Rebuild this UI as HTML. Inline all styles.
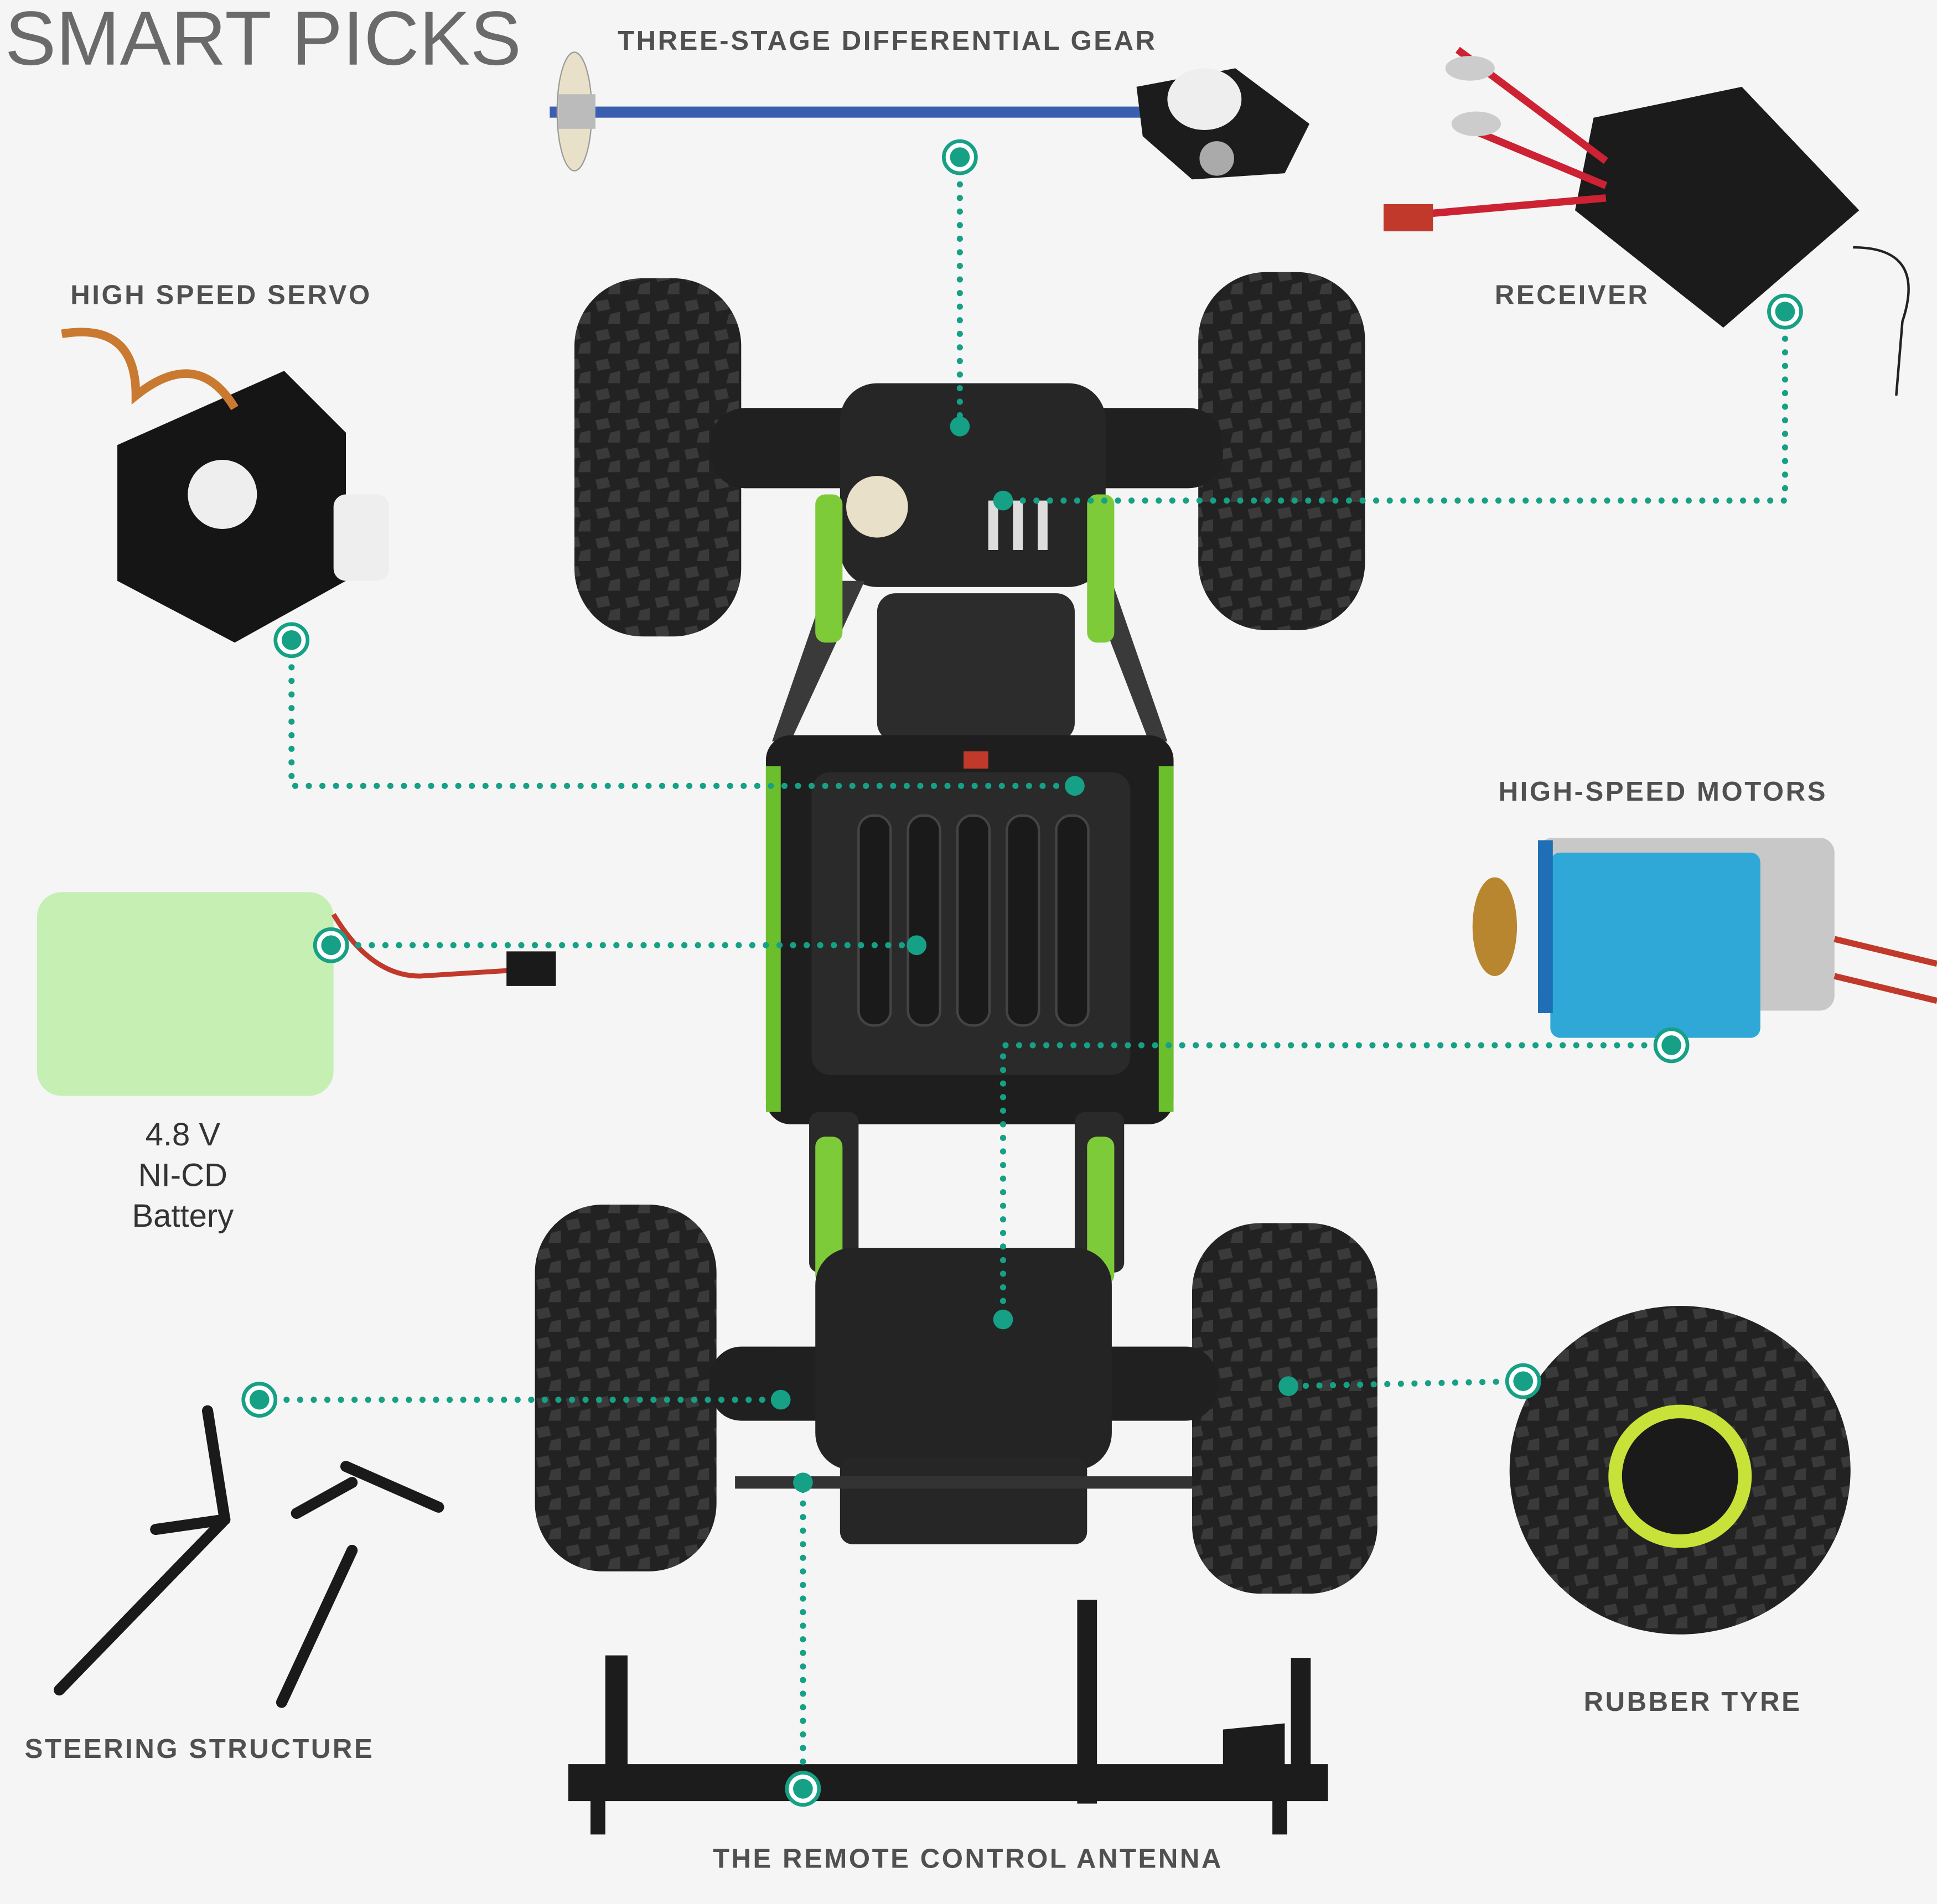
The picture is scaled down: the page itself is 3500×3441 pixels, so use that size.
<!DOCTYPE html>
<html><head><meta charset="utf-8"><style>
html,body{margin:0;padding:0;background:#f5f5f5;}
svg{display:block;}
text{font-family:"Liberation Sans",sans-serif;}
.lbl{font-size:22px;font-weight:bold;fill:#505050;letter-spacing:1.6px;}
.dot{stroke:#16a085;stroke-width:5;stroke-linecap:round;stroke-dasharray:0 11;fill:none;}
</style></head><body>
<svg width="3500" height="3441" viewBox="0 0 1568 1541" xmlns="http://www.w3.org/2000/svg">
<rect width="1568" height="1541" fill="#f5f5f5"/>
<defs>
<pattern id="tread" width="24" height="24" patternUnits="userSpaceOnUse">
<rect width="24" height="24" fill="#222"/>
<path d="M2 4 L12 2 L14 10 L4 12Z M14 14 L22 12 L22 22 L12 22Z" fill="#3a3a3a"/>
</pattern>
<g id="dotc"><circle r="13" fill="#fff" stroke="#16a085" stroke-width="3"/><circle r="8" fill="#16a085"/></g>
</defs>

<text x="4" y="52" font-size="62" fill="#6a6a6a">SMART PICKS</text>
<text x="500" y="40" class="lbl">THREE-STAGE DIFFERENTIAL GEAR</text>
<text x="57" y="246" class="lbl">HIGH SPEED SERVO</text>
<text x="1210" y="246" class="lbl">RECEIVER</text>
<text x="1213" y="648" class="lbl">HIGH-SPEED MOTORS</text>
<text x="20" y="1423" class="lbl">STEERING STRUCTURE</text>
<text x="1282" y="1385" class="lbl">RUBBER TYRE</text>
<text x="577" y="1512" class="lbl">THE REMOTE CONTROL ANTENNA</text>
<text x="148" y="927" font-size="26" fill="#333" text-anchor="middle">4.8 V</text>
<text x="148" y="960" font-size="26" fill="#333" text-anchor="middle">NI-CD</text>
<text x="148" y="993" font-size="26" fill="#333" text-anchor="middle">Battery</text>

<!-- differential gear -->
<rect x="445" y="86" width="480" height="9" fill="#3a5fb0"/>
<ellipse cx="465" cy="90" rx="14" ry="48" fill="#e8e0c8" stroke="#999"/>
<rect x="452" y="76" width="30" height="28" fill="#bbb"/>
<path d="M920 70 L1000 55 L1060 100 L1040 140 L965 145 L925 110Z" fill="#1c1c1c"/>
<ellipse cx="975" cy="80" rx="30" ry="25" fill="#eee"/>
<circle cx="985" cy="128" r="14" fill="#aaa"/>

<!-- receiver -->
<path d="M1290 95 L1410 70 L1505 170 L1395 265 L1275 170Z" fill="#1b1b1b"/>
<path d="M1180 40 L1300 130" stroke="#c23" stroke-width="6"/>
<path d="M1180 100 L1300 150" stroke="#c23" stroke-width="6"/>
<path d="M1130 175 L1300 160" stroke="#c23" stroke-width="6"/>
<rect x="1120" y="165" width="40" height="22" fill="#c0392b"/>
<ellipse cx="1190" cy="55" rx="20" ry="10" fill="#ccc"/>
<ellipse cx="1195" cy="100" rx="20" ry="10" fill="#ccc"/>
<path d="M1500 200 Q1560 200 1540 260 L1535 320" stroke="#222" stroke-width="2" fill="none"/>

<!-- servo -->
<path d="M95 360 L230 300 L280 350 L280 470 L190 520 L95 470Z" fill="#151515"/>
<circle cx="180" cy="400" r="28" fill="#eee"/>
<rect x="270" y="400" width="45" height="70" rx="10" fill="#eee"/>
<path d="M50 270 Q110 260 110 320 Q160 280 190 330" stroke="#c97a30" stroke-width="7" fill="none"/>

<!-- battery -->
<rect x="30" y="722" width="240" height="165" rx="20" fill="#c6efb3"/>
<path d="M270 740 Q300 790 340 790 L420 785" stroke="#c0392b" stroke-width="4" fill="none"/>
<rect x="410" y="770" width="40" height="28" fill="#1a1a1a"/>

<!-- motor -->
<rect x="1245" y="678" width="240" height="140" rx="12" fill="#c8c8c8"/>
<rect x="1255" y="690" width="170" height="150" rx="8" fill="#2fa8d8"/>
<rect x="1245" y="680" width="12" height="140" fill="#1e6fb5"/>
<ellipse cx="1210" cy="750" rx="18" ry="40" fill="#b8862e"/>
<path d="M1485 760 L1568 780 M1485 790 L1568 810" stroke="#c0392b" stroke-width="5"/>

<!-- car tires -->
<rect x="465" y="225" width="135" height="290" rx="55" fill="url(#tread)"/>
<rect x="970" y="220" width="135" height="290" rx="55" fill="url(#tread)"/>
<rect x="433" y="975" width="147" height="297" rx="55" fill="url(#tread)"/>
<rect x="965" y="990" width="150" height="300" rx="55" fill="url(#tread)"/>

<!-- front axle / gearbox -->
<rect x="575" y="330" width="415" height="65" rx="28" fill="#202020"/>
<rect x="680" y="310" width="215" height="165" rx="30" fill="#262626"/>
<circle cx="710" cy="410" r="25" fill="#e8e0c8"/>
<rect x="800" y="405" width="8" height="40" fill="#ddd"/><rect x="820" y="405" width="8" height="40" fill="#ddd"/><rect x="840" y="405" width="8" height="40" fill="#ddd"/>
<path d="M670 470 L700 470 L640 600 L625 600Z" fill="#3a3a3a"/>
<path d="M900 470 L880 470 L930 600 L945 600Z" fill="#3a3a3a"/>
<rect x="880" y="400" width="22" height="120" rx="8" fill="#7ecb3a"/>
<rect x="660" y="400" width="22" height="120" rx="8" fill="#7ecb3a"/>
<rect x="710" y="480" width="160" height="120" rx="15" fill="#2c2c2c"/>

<!-- chassis -->
<rect x="620" y="595" width="330" height="315" rx="20" fill="#1e1e1e"/>
<rect x="620" y="620" width="12" height="280" fill="#6cbf2c"/>
<rect x="938" y="620" width="12" height="280" fill="#6cbf2c"/>
<rect x="657" y="625" width="258" height="245" rx="15" fill="#2a2a2a"/>
<g fill="#1a1a1a" stroke="#444" stroke-width="2">
<rect x="695" y="660" width="26" height="170" rx="12"/><rect x="735" y="660" width="26" height="170" rx="12"/>
<rect x="775" y="660" width="26" height="170" rx="12"/><rect x="815" y="660" width="26" height="170" rx="12"/>
<rect x="855" y="660" width="26" height="170" rx="12"/>
</g>
<rect x="780" y="608" width="20" height="14" fill="#c0392b"/>

<!-- rear section -->
<rect x="655" y="900" width="40" height="130" rx="8" fill="#2a2a2a"/>
<rect x="870" y="900" width="40" height="130" rx="8" fill="#2a2a2a"/>
<rect x="880" y="920" width="22" height="120" rx="8" fill="#7ecb3a"/>
<rect x="660" y="920" width="22" height="120" rx="8" fill="#7ecb3a"/>
<rect x="575" y="1090" width="410" height="60" rx="25" fill="#202020"/>
<rect x="660" y="1010" width="240" height="180" rx="30" fill="#242424"/>
<rect x="680" y="1180" width="200" height="70" rx="10" fill="#262626"/>
<rect x="595" y="1195" width="370" height="10" fill="#333"/>

<!-- rubber tyre -->
<ellipse cx="1360" cy="1190" rx="138" ry="133" fill="url(#tread)"/>
<circle cx="1360" cy="1195" r="58" fill="#c8e23a"/>
<circle cx="1360" cy="1195" r="47" fill="#1a1a1a"/>

<!-- steering structure -->
<g stroke="#1a1a1a" stroke-width="9" stroke-linecap="round" fill="none">
<path d="M168 1142 L182 1230"/><path d="M182 1230 L48 1368"/><path d="M126 1238 L182 1230"/>
<path d="M280 1187 L355 1220"/><path d="M240 1225 L285 1200"/><path d="M285 1255 L228 1378"/>
</g>

<!-- antenna -->
<g fill="#1c1c1c">
<rect x="460" y="1428" width="615" height="30"/>
<rect x="490" y="1340" width="18" height="100"/>
<rect x="872" y="1295" width="16" height="165"/>
<rect x="1045" y="1342" width="16" height="100"/>
<path d="M990 1400 L1040 1395 L1040 1430 L990 1430Z"/>
<rect x="478" y="1455" width="12" height="30"/><rect x="1030" y="1455" width="12" height="30"/>
</g>

<!-- connectors -->
<path class="dot" d="M777 127 L777 345"/>
<path class="dot" d="M1445 252 L1445 405 L812 405"/>
<path class="dot" d="M236 518 L236 636 L870 636"/>
<path class="dot" d="M268 765 L742 765"/>
<path class="dot" d="M1353 846 L812 846 L812 1068"/>
<path class="dot" d="M210 1133 L632 1133"/>
<path class="dot" d="M1233 1118 L1043 1122"/>
<path class="dot" d="M650 1448 L650 1200"/>
<use href="#dotc" x="777" y="127"/><use href="#dotc" x="1445" y="252"/><use href="#dotc" x="236" y="518"/>
<use href="#dotc" x="268" y="765"/><use href="#dotc" x="1353" y="846"/><use href="#dotc" x="210" y="1133"/>
<use href="#dotc" x="1233" y="1118"/><use href="#dotc" x="650" y="1448"/>
<g fill="#16a085"><circle cx="777" cy="345" r="8"/><circle cx="812" cy="405" r="8"/><circle cx="870" cy="636" r="8"/>
<circle cx="742" cy="765" r="8"/><circle cx="812" cy="1068" r="8"/><circle cx="632" cy="1133" r="8"/>
<circle cx="1043" cy="1122" r="8"/><circle cx="650" cy="1200" r="8"/></g>
</svg>
</body></html>
